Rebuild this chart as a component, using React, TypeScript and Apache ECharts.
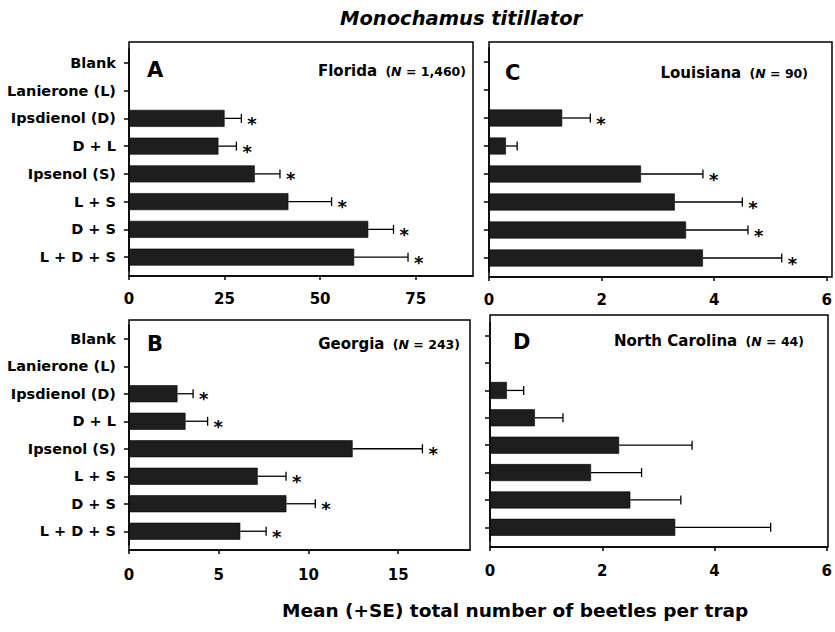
import React, { useEffect, useRef } from "react";
import * as echarts from "echarts";

const categories = ["Blank", "Lanierone (L)", "Ipsdienol (D)", "D + L", "Ipsenol (S)", "L + S", "D + S", "L + D + S"];

const floridaMean = [null, null, 25.0, 23.4, 32.9, 41.7, 62.6, 58.9];
const floridaSE = [null, null, 4.4, 4.7, 6.6, 11.3, 6.6, 14.1];
const floridaStar = [false, false, true, true, true, true, true, true];

const georgiaMean = [null, null, 2.7, 3.15, 12.46, 7.17, 8.77, 6.2];
const georgiaSE = [null, null, 0.87, 1.23, 3.89, 1.58, 1.61, 1.44];
const georgiaStar = [false, false, true, true, true, true, true, true];

const louisianaMean = [null, null, 1.3, 0.3, 2.7, 3.3, 3.5, 3.8];
const louisianaSE = [null, null, 0.5, 0.2, 1.1, 1.2, 1.1, 1.4];
const louisianaStar = [false, false, true, false, true, true, true, true];

const ncMean = [null, null, 0.3, 0.8, 2.3, 1.8, 2.5, 3.3];
const ncSE = [null, null, 0.3, 0.5, 1.3, 0.9, 0.9, 1.7];
const ncStar = [false, false, false, false, false, false, false, false];

const floridaTicks = [0, 25, 50, 75];
const georgiaTicks = [0, 5, 10, 15];
const louisianaTicks = [0, 2, 4, 6];
const ncTicks = [0, 2, 4, 6];

const FONT = '"DejaVu Sans", sans-serif';

type Panel = {
  letter: string;
  place: string;
  n: string;
  mean: (number | null)[];
  se: (number | null)[];
  star: boolean[];
  ticks: number[];
  max: number;
  grid: { left: number; top: number; width: number; height: number };
  box: { x: number; y: number; w: number; h: number };
  offset: number;
  labelMargin: number;
  showLabels: boolean;
  letterPos: [number, number];
  placePos: [number, number];
};

const panels: Panel[] = [
  {
    letter: "A", place: "Florida", n: "1,460", mean: floridaMean, se: floridaSE, star: floridaStar,
    ticks: floridaTicks, max: 90,
    grid: { left: 129, top: 49, width: 344, height: 222 }, box: { x: 129, y: 42, w: 344, h: 234 }, offset: 5,
    labelMargin: 15, showLabels: true, letterPos: [147, 70], placePos: [466, 71],
  },
  {
    letter: "B", place: "Georgia", n: "243", mean: georgiaMean, se: georgiaSE, star: georgiaStar,
    ticks: georgiaTicks, max: 19,
    grid: { left: 129, top: 325, width: 341, height: 220 }, box: { x: 129, y: 320, w: 341, h: 230 }, offset: 5,
    labelMargin: 17, showLabels: true, letterPos: [147, 344], placePos: [460, 344],
  },
  {
    letter: "C", place: "Louisiana", n: "90", mean: louisianaMean, se: louisianaSE, star: louisianaStar,
    ticks: louisianaTicks, max: 6,
    grid: { left: 489, top: 48, width: 343, height: 224 }, box: { x: 489, y: 42, w: 343, h: 235 }, offset: 5,
    labelMargin: 15, showLabels: false, letterPos: [505, 73], placePos: [808, 73],
  },
  {
    letter: "D", place: "North Carolina", n: "44", mean: ncMean, se: ncSE, star: ncStar,
    ticks: ncTicks, max: 6,
    grid: { left: 490, top: 322, width: 338, height: 219 }, box: { x: 490, y: 315, w: 338, h: 232 }, offset: 6,
    labelMargin: 16, showLabels: false, letterPos: [513, 342], placePos: [804, 341],
  },
];

export default function App() {
  const ref = useRef<HTMLDivElement>(null);
  useEffect(() => {
    if (!ref.current) return;
    const chart = echarts.init(ref.current, null, { renderer: "svg" });

    const grids: any[] = [];
    const xAxes: any[] = [];
    const yAxes: any[] = [];
    const series: any[] = [];
    const graphics: any[] = [];

    panels.forEach((p, i) => {
      grids.push({ ...p.grid, containLabel: false });
      xAxes.push({
        type: "value",
        gridIndex: i,
        min: 0,
        max: p.max,
        offset: p.offset,
        splitLine: { show: false },
        axisLine: { show: true, lineStyle: { color: "#000", width: 1.5 } },
        axisTick: { show: true, length: 4, lineStyle: { color: "#000", width: 1.5 }, customValues: p.ticks },
        axisLabel: {
          customValues: p.ticks,
          margin: p.labelMargin,
          color: "#000",
          fontFamily: FONT,
          fontWeight: "bold",
          fontSize: 15,
        },
      });
      yAxes.push({
        type: "category",
        gridIndex: i,
        data: categories,
        inverse: true,
        axisLine: { show: true, lineStyle: { color: "#000", width: 1.5 } },
        axisTick: { show: true, alignWithLabel: true, length: 5, lineStyle: { color: "#000", width: 1.5 } },
        axisLabel: {
          show: p.showLabels,
          margin: 13,
          color: "#000",
          fontFamily: FONT,
          fontWeight: "bold",
          fontSize: 14.5,
        },
        splitLine: { show: false },
      });
      series.push({
        type: "bar",
        xAxisIndex: i,
        yAxisIndex: i,
        data: p.mean,
        barWidth: 17,
        itemStyle: { color: "#1e1e1e", borderColor: "#000", borderWidth: 0.6 },
        silent: true,
      });
      const errData: any[] = [];
      p.mean.forEach((m, k) => {
        if (m == null) return;
        errData.push([m, m + (p.se[k] as number), k, p.star[k] ? 1 : 0]);
      });
      series.push({
        type: "custom",
        xAxisIndex: i,
        yAxisIndex: i,
        data: errData,
        encode: { x: [0, 1], y: 2 },
        silent: true,
        renderItem: (params: any, api: any) => {
          const s = api.coord([api.value(0), api.value(2)]);
          const e = api.coord([api.value(1), api.value(2)]);
          const children: any[] = [
            { type: "line", shape: { x1: s[0], y1: s[1], x2: e[0], y2: e[1] }, style: { stroke: "#000", lineWidth: 1.3 } },
            { type: "line", shape: { x1: e[0], y1: e[1] - 4.5, x2: e[0], y2: e[1] + 4.5 }, style: { stroke: "#000", lineWidth: 1.3 } },
          ];
          if (api.value(3) === 1) {
            children.push({
              type: "text",
              x: e[0] + 6,
              y: e[1] + 5,
              style: { text: "*", font: `bold 18px ${FONT}`, fill: "#000", align: "left", verticalAlign: "middle" },
            });
          }
          return { type: "group", children };
        },
      });

      graphics.push({
        type: "rect",
        shape: { x: p.box.x, y: p.box.y, width: p.box.w, height: p.box.h },
        style: { fill: "none", stroke: "#000", lineWidth: 1.5 },
        silent: true,
      });
      graphics.push({
        type: "text",
        x: p.letterPos[0],
        y: p.letterPos[1],
        style: { text: p.letter, font: `bold 21px ${FONT}`, fill: "#000", align: "left", verticalAlign: "middle" },
      });
      graphics.push({
        type: "text",
        x: p.placePos[0],
        y: p.placePos[1],
        style: {
          text: `{b|${p.place}}{g|  }{p|(}{n|N}{p| = ${p.n})}`,
          align: "right",
          verticalAlign: "middle",
          rich: {
            b: { font: `bold 15px ${FONT}`, fill: "#000", color: "#000" },
            g: { font: `bold 12px ${FONT}`, fill: "#000", color: "#000" },
            p: { font: `bold 12.5px ${FONT}`, fill: "#000", color: "#000" },
            n: { font: `italic bold 12.5px ${FONT}`, fill: "#000", color: "#000" },
          },
        },
      });
    });

    graphics.push({
      type: "text",
      x: 340,
      y: 18,
      style: { text: "Monochamus titillator", font: `italic bold 19.5px ${FONT}`, fill: "#000", align: "left", verticalAlign: "middle" },
    });
    graphics.push({
      type: "text",
      x: 282,
      y: 610,
      style: { text: "Mean (+SE) total number of beetles per trap", font: `bold 18.5px ${FONT}`, fill: "#000", align: "left", verticalAlign: "middle" },
    });

    chart.setOption({
      animation: false,
      backgroundColor: "#fff",
      grid: grids,
      xAxis: xAxes,
      yAxis: yAxes,
      series,
      graphic: { elements: graphics },
    });
    return () => chart.dispose();
  }, []);
  return <div ref={ref} style={{ position: "fixed", left: 0, top: 0, width: 835, height: 632 }} />;
}
